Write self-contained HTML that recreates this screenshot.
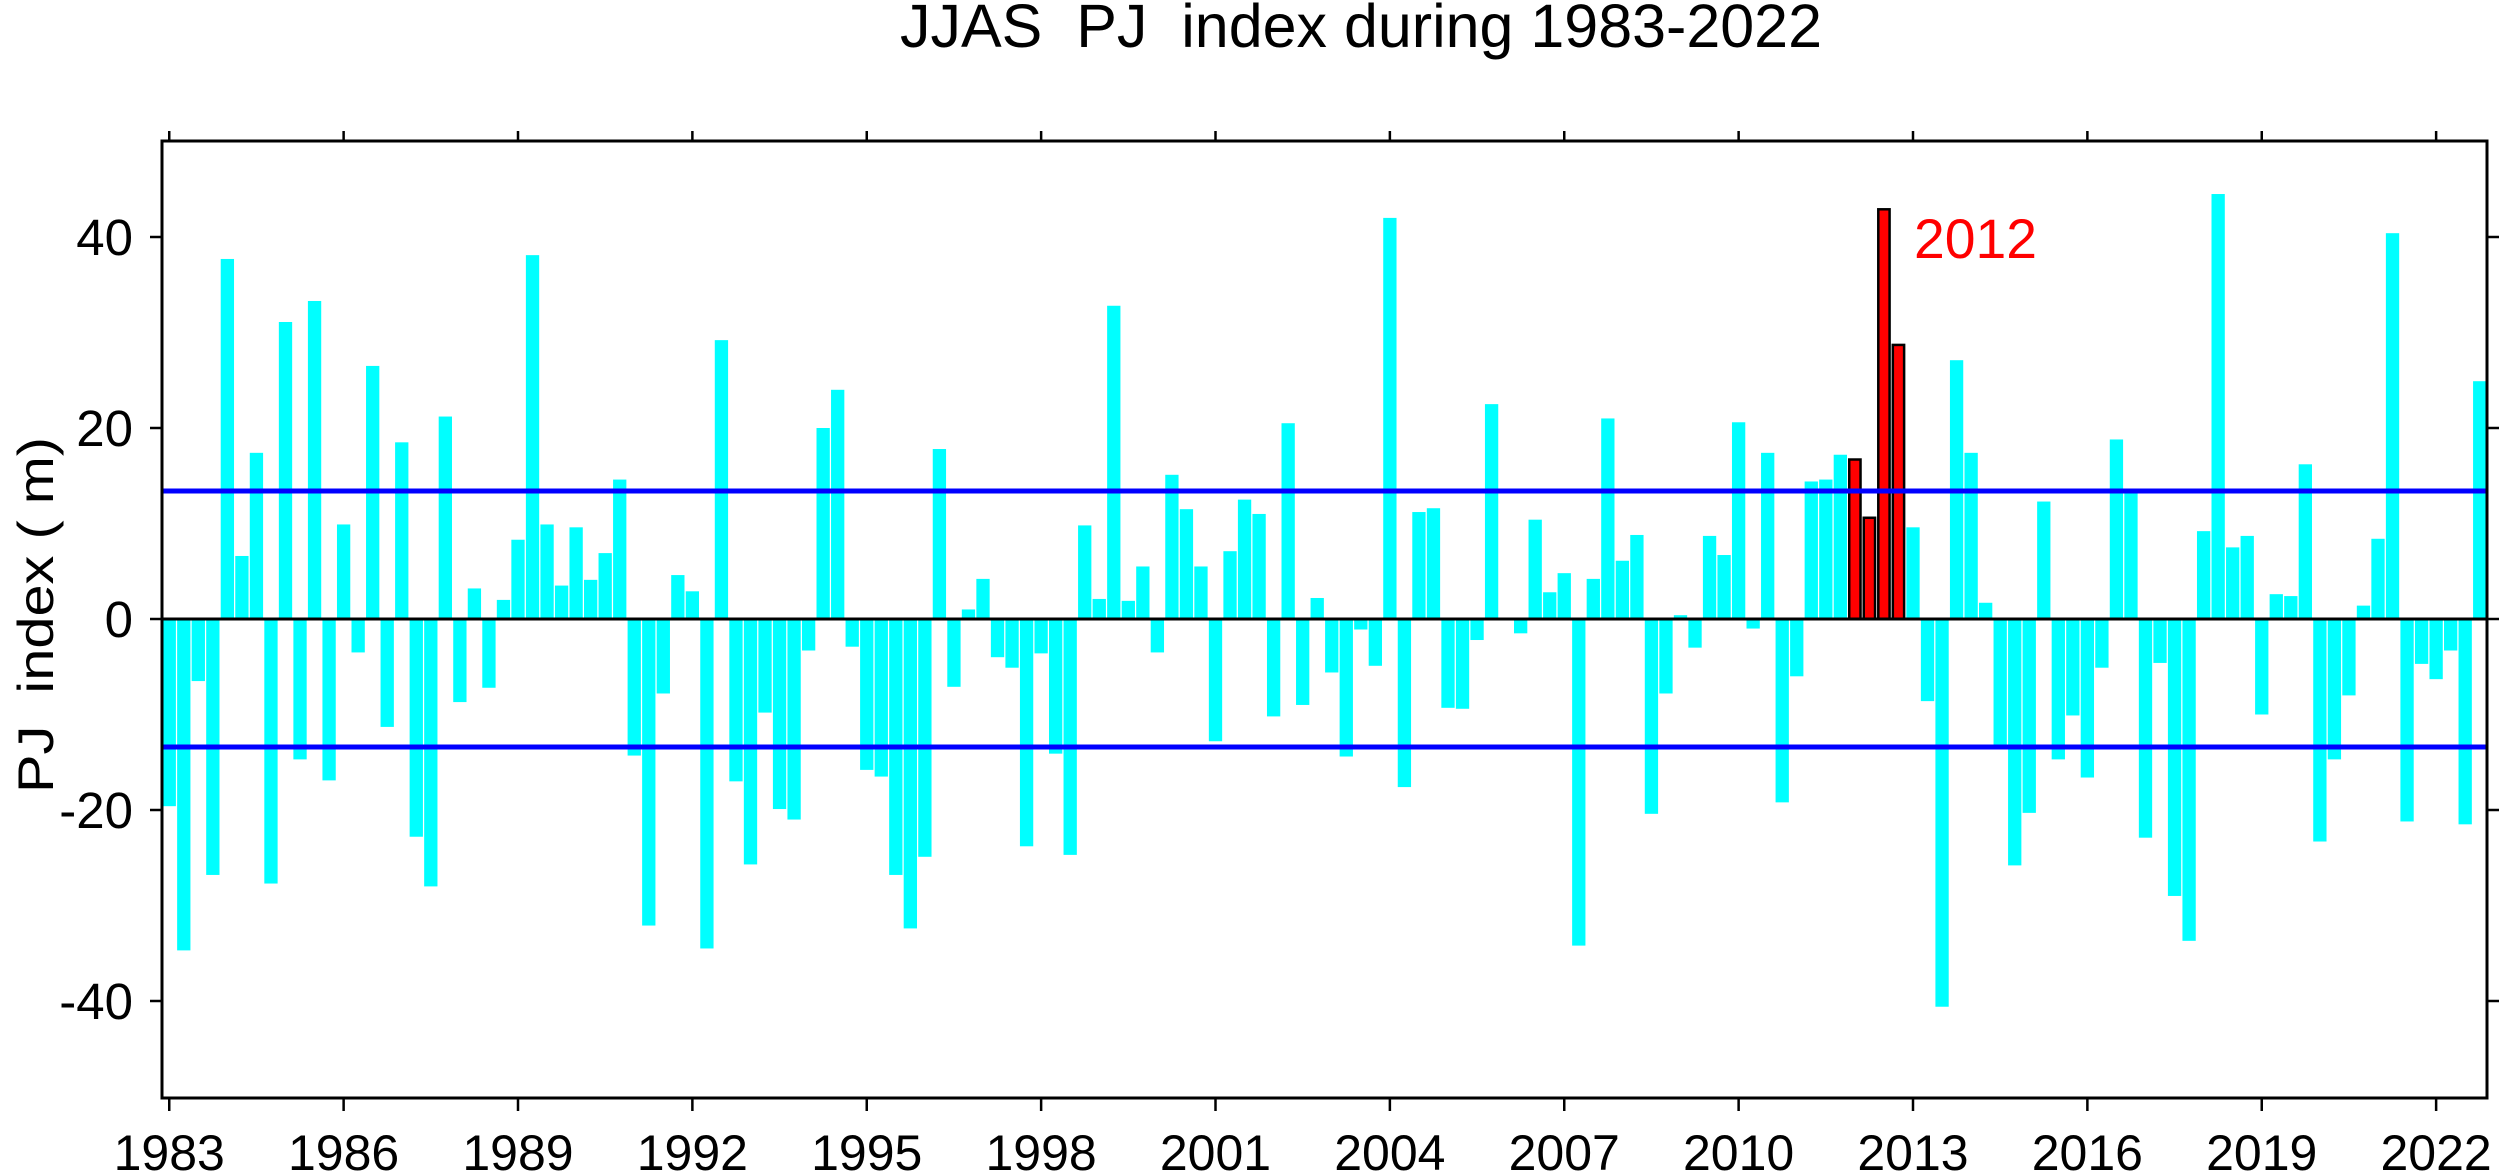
<!DOCTYPE html>
<html><head><meta charset="utf-8">
<style>
html,body{margin:0;padding:0;background:#fff;}
svg{display:block;}
text{font-family:"Liberation Sans",Arial,sans-serif;}
</style></head>
<body>
<svg id="c" xmlns="http://www.w3.org/2000/svg" width="2500" height="1173" viewBox="0 0 2500 1173">
<rect width="2500" height="1173" fill="#fff"/>
<g id="bars"></g>
<g id="axes"></g>
<text x="900" y="47" font-size="61" textLength="922" lengthAdjust="spacingAndGlyphs" xml:space="preserve">JJAS  PJ  index during 1983-2022</text>
<text x="1914" y="258" font-size="56" fill="#ff0000" textLength="123" lengthAdjust="spacingAndGlyphs">2012</text>
<text transform="translate(53,615) rotate(-90)" text-anchor="middle" font-size="50" textLength="356" lengthAdjust="spacingAndGlyphs" xml:space="preserve">PJ  index ( m)</text>
</svg>
<script>
var v=[-19.6,-34.7,-6.5,-26.8,37.7,6.6,17.4,-27.7,31.1,-14.7,33.3,-16.9,9.9,-3.5,26.5,-11.3,18.5,-22.8,-28.0,21.2,-8.7,3.2,-7.2,2.0,8.3,38.1,
9.9,3.5,9.6,4.1,6.9,14.6,-14.3,-32.1,-7.8,4.6,2.9,-34.5,29.2,-17.0,-25.7,-9.8,-19.9,-21.0,-3.3,20.0,24.0,-2.9,-15.8,-16.5,-26.8,-32.4,-24.9,17.8,
-7.1,1.0,4.2,-4.0,-5.1,-23.8,-3.6,-14.1,-24.7,9.8,2.1,32.8,1.9,5.5,-3.5,15.1,11.5,5.5,-12.8,7.1,12.5,11.0,-10.2,20.5,-9.0,2.2,
-5.6,-14.4,-1.1,-4.9,42.0,-17.6,11.2,11.6,-9.3,-9.4,-2.2,22.5,0.1,-1.5,10.4,2.8,4.8,-34.2,4.2,21.0,6.1,8.8,-20.4,-7.8,0.4,-3.0,8.7,6.7,
20.6,-1.0,17.4,-19.2,-6.0,14.4,14.6,17.2,16.7,10.6,42.9,28.7,9.6,-8.6,-40.6,27.1,17.4,1.7,-13.2,-25.8,-20.3,12.3,-14.7,-10.1,-16.6,-5.1,
18.8,13.3,-22.9,-4.6,-29.0,-33.7,9.2,44.5,7.5,8.7,-10.0,2.6,2.4,16.2,-23.3,-14.7,-8.0,1.4,8.4,40.4,-21.2,-4.7,-6.3,-3.3,-21.5,24.9];
var L=162,R=2487,T=141,B=1098,Z=619,S=9.55,P=(R-L)/160,W=13.3;
var ns="http://www.w3.org/2000/svg";
function el(n,a,p){var e=document.createElementNS(ns,n);for(var k in a)e.setAttribute(k,a[k]);p.appendChild(e);return e;}
var g=document.getElementById('bars'),ax=document.getElementById('axes');
for(var i=0;i<160;i++){
 var x=L+i*P+0.6,val=v[i],y=val>=0?Z-val*S:Z,h=Math.abs(val)*S;
 var red=(i>=116&&i<=119);
 el('rect',{x:red?x+1:x,y:y,width:red?W-2:W,height:h,fill:red?'#ff0000':'#00ffff',stroke:red?'#000':'none','stroke-width':red?2.5:0},g);
}
// reference lines
el('line',{x1:L,x2:R,y1:Z-13.4*S,y2:Z-13.4*S,stroke:'#0000ff','stroke-width':5},ax);
el('line',{x1:L,x2:R,y1:Z+13.4*S,y2:Z+13.4*S,stroke:'#0000ff','stroke-width':5},ax);
el('line',{x1:L,x2:R,y1:Z,y2:Z,stroke:'#000','stroke-width':3},ax);
el('rect',{x:L,y:T,width:R-L,height:B-T,fill:'none',stroke:'#000','stroke-width':3},ax);
// y ticks
[-40,-20,0,20,40].forEach(function(t){
 var y=Z-t*S;
 el('line',{x1:L-12,x2:L,y1:y,y2:y,stroke:'#000','stroke-width':2.5},ax);
 el('line',{x1:R,x2:R+12,y1:y,y2:y,stroke:'#000','stroke-width':2.5},ax);
 var tx=el('text',{x:133,y:y+18,'text-anchor':'end','font-size':51},ax);tx.textContent=String(t);
});
// x ticks
for(var yr=1983;yr<=2022;yr+=3){
 var k=yr-1983,x=L+k*4*P+0.6+W/2;
 el('line',{x1:x,x2:x,y1:B,y2:B+13,stroke:'#000','stroke-width':2.5},ax);
 el('line',{x1:x,x2:x,y1:T-10,y2:T,stroke:'#000','stroke-width':2.5},ax);
 var tx=el('text',{x:x,y:1170,'text-anchor':'middle','font-size':50},ax);tx.textContent=String(yr);
}
</script>
</body></html>
